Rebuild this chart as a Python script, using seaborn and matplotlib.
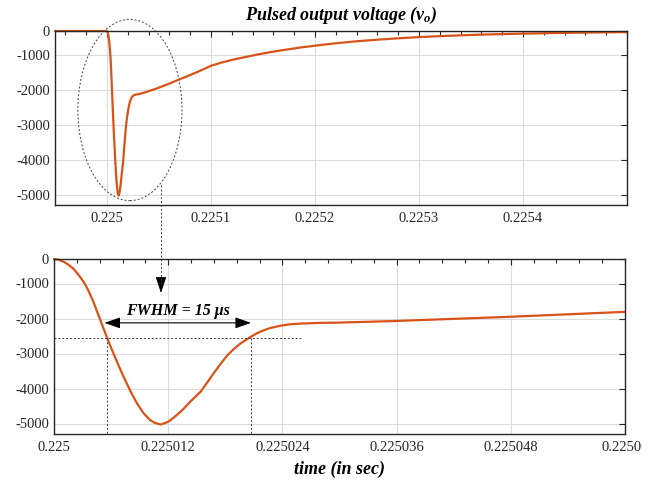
import numpy as np
import pandas as pd
import matplotlib
matplotlib.use("Agg")
import matplotlib.pyplot as plt
import seaborn as sns
from matplotlib.patches import Ellipse, FancyArrowPatch
from matplotlib.lines import Line2D
from matplotlib.ticker import MultipleLocator, NullLocator
from matplotlib.transforms import Bbox

# ---------------- data ----------------
t0 = 0.225  # seconds
t_us = [-50, 0, 0.5, 1, 1.5, 2, 2.5, 2.8, 3.1, 3.35, 3.6, 4.1, 4.7, 5.4, 5.9,
        6.6, 7.3, 8.0, 8.7, 9.4, 10.1, 10.6, 11.2, 12.0, 12.9, 13.6, 14.3,
        15.4, 16.1, 16.8, 17.5, 18.2, 18.9, 19.6, 20.6, 21.3, 22.0, 22.7,
        23.8, 24.8, 25.9, 28, 30, 36, 48, 60, 68, 78, 89, 100, 110, 120, 132,
        144, 157, 170, 185, 200, 220, 240, 260, 280, 300, 330, 360, 400, 450,
        500]
v_out = [0, 0, -30, -110, -227, -381, -607, -761, -931, -1063, -1195, -1495,
         -1925, -2426, -2770, -3228, -3657, -4058, -4416, -4702, -4903, -4983,
         -5030, -4952, -4760, -4588, -4379, -4093, -3829, -3557, -3300, -3056,
         -2870, -2712, -2535, -2426, -2340, -2274, -2206, -2166, -2145, -2125,
         -2117, -2070, -1950, -1810, -1710, -1590, -1450, -1300, -1207, -1132,
         -1055, -971, -869, -779, -684, -602, -504, -422, -357, -299, -250,
         -193, -148, -107, -70, -45]

top_xticks = [0.225, 0.2251, 0.2252, 0.2253, 0.2254]
top_xticklabels = ["0.225", "0.2251", "0.2252", "0.2253", "0.2254"]
bot_xticks = [0.225, 0.225012, 0.225024, 0.225036, 0.225048, 0.22506]
bot_xticklabels = ["0.225", "0.225012", "0.225024", "0.225036", "0.225048", "0.22506"]
yticks = [-5000, -4000, -3000, -2000, -1000, 0]
yticklabels = ["-5000", "-4000", "-3000", "-2000", "-1000", "0"]

fwhm_t_us = [5.6, 20.7]
fwhm_level = -2545
fwhm_label = "FWHM = 15 \u03bcs"

# ---------------- style ----------------
sns.set_theme(style="white")
plt.rcParams["font.family"] = ["Liberation Serif", "DejaVu Serif"]
plt.rcParams["mathtext.fontset"] = "custom"
plt.rcParams["mathtext.it"] = "Liberation Serif:italic:bold"
plt.rcParams["mathtext.rm"] = "Liberation Serif:bold"
plt.rcParams["axes.unicode_minus"] = False

LINE_C = "#D95319"
AX_C = "#262626"


def fwd(y):
    y = np.asarray(y, dtype=float)
    return np.where(y < -1000, y, -1000 + (y + 1000) * 0.70)


def inv(y):
    y = np.asarray(y, dtype=float)
    return np.where(y < -1000, y, -1000 + (y + 1000) / 0.70)


df = pd.DataFrame({"t_us": t_us, "v": v_out})
df["t"] = t0 + df["t_us"] * 1e-6

fig = plt.figure(figsize=(6.58, 4.8), dpi=100)
ax1 = fig.add_axes([55 / 658, 1 - 205 / 480, 572 / 658, 174 / 480])
ax2 = fig.add_axes([54 / 658, 1 - 434 / 480, 571 / 658, 175 / 480])

sns.lineplot(data=df, x="t", y="v", ax=ax1, color=LINE_C, lw=1.6, sort=False)
sns.lineplot(data=df[df["t_us"].between(0, 60)], x="t", y="v", ax=ax2,
             color=LINE_C, lw=1.6, sort=False)
for ax in (ax1, ax2):
    for ln in ax.get_lines():
        ln.set_clip_on(False)
        ln.set_solid_joinstyle("round")


def style(ax):
    ax.set_yscale("function", functions=(fwd, inv))
    ax.set_ylim(-5300, 0)
    ax.set_yticks(yticks, yticklabels)
    ax.yaxis.set_minor_locator(NullLocator())
    ax.grid(True, which="major", color="#dcdcdc", lw=0.8)
    ax.set_axisbelow(True)
    for s in ax.spines.values():
        s.set_visible(True)
        s.set_color(AX_C)
        s.set_linewidth(1.0)
    ax.tick_params(which="both", direction="in", top=True, right=True,
                   color=AX_C, labelcolor=AX_C, labelsize=10.5, width=0.8)
    ax.tick_params(which="major", length=4.5)
    ax.tick_params(which="minor", length=2.6)
    ax.tick_params(axis="x", pad=5)
    ax.tick_params(axis="y", pad=3.5)
    ax.set_xlabel("")
    ax.set_ylabel("")


style(ax1)
ax1.set_xlim(0.22495, 0.2255)
ax1.set_xticks(top_xticks, top_xticklabels)
ax1.xaxis.set_minor_locator(MultipleLocator(0.00002))
ax1.set_title("Pulsed output voltage ($v_o$)", fontsize=13, fontweight="bold",
              fontstyle="italic", pad=8, color="black")

style(ax2)
ax2.set_xlim(0.225, 0.22506)
ax2.set_xticks(bot_xticks, bot_xticklabels)
ax2.xaxis.set_minor_locator(MultipleLocator(0.0000024))
ax2.set_xlabel("time (in sec)", fontsize=13, fontweight="bold",
               fontstyle="italic", labelpad=5, color="black")

# ---------------- annotations ----------------
# dashed ellipse around the pulse in the upper plot
ax1.add_patch(Ellipse((0.131, 0.546), 0.182, 1.042, transform=ax1.transAxes,
                      fill=False, ls=(0, (2, 2)), lw=0.7, ec="#404040",
                      clip_on=False))
# dashed connector with arrowhead
fig.add_artist(Line2D([161 / 658, 161 / 658], [1 - 185 / 480, 1 - 284 / 480],
                      transform=fig.transFigure, ls=(0, (2, 2)), lw=0.7,
                      color="#404040"))
fig.add_artist(FancyArrowPatch(
    posA=(161 / 658, 1 - 281 / 480), posB=(161 / 658, 1 - 293 / 480),
    transform=fig.transFigure, arrowstyle="-|>,head_length=0.85,head_width=0.28",
    mutation_scale=12, color="black", lw=0.6, shrinkA=0, shrinkB=0))

# FWHM guides
x_l = t0 + fwhm_t_us[0] * 1e-6
x_r = t0 + fwhm_t_us[1] * 1e-6
dash_kw = dict(ls=(0, (2, 2)), lw=0.7, color="#404040")
ax2.plot([t0, t0 + 26.1e-6], [fwhm_level, fwhm_level], **dash_kw)
ax2.plot([x_l, x_l], [fwhm_level, -5300], **dash_kw)
ax2.plot([x_r, x_r], [fwhm_level, -5300], **dash_kw)
ax2.annotate("", xy=(t0 + 20.7e-6, -2125), xytext=(t0 + 5.3e-6, -2125),
             arrowprops=dict(arrowstyle="<|-|>,head_length=0.8,head_width=0.28",
                             mutation_scale=12, color="black", lw=0.8,
                             shrinkA=0, shrinkB=0))
ax2.text(t0 + 13.05e-6, -1782, fwhm_label, ha="center", va="center",
         fontsize=11.5, fontweight="bold", fontstyle="italic", color="black")

# last bottom tick label is cut off in the reference
last = ax2.xaxis.get_major_ticks()[-1].label1
last.set_clip_on(True)
last.set_clip_box(Bbox.from_extents(0, 0, 642, 480))

fig.savefig("out.png", dpi=100)
